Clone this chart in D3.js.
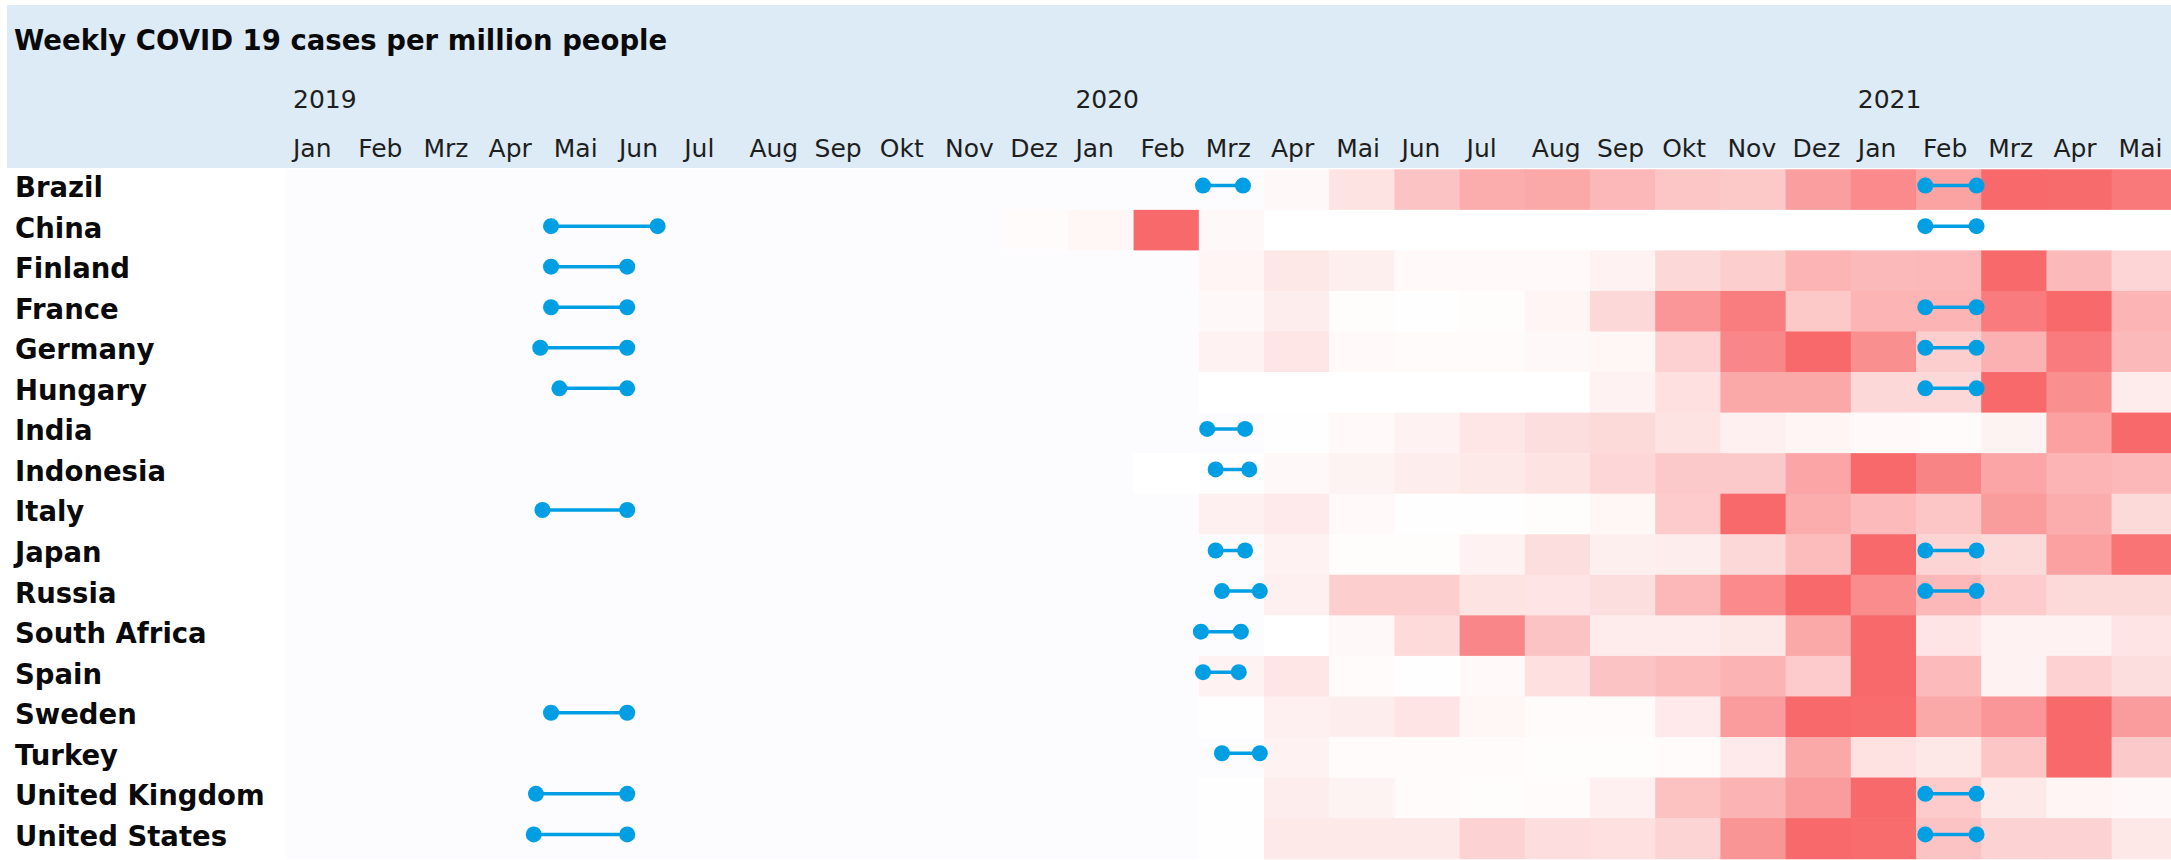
<!DOCTYPE html>
<html>
<head>
<meta charset="utf-8">
<title>Weekly COVID 19 cases per million people</title>
<script src="https://cdn.jsdelivr.net/npm/d3@7"></script>
<style>
  html, body { margin: 0; padding: 0; background: #ffffff; }
  svg { display: block; }
</style>
</head>
<body>
<div id="chart"></div>
<script>
// ---- Axis labels -------------------------------------------------------
const monthLabels = [
  "Jan", "Feb", "Mrz", "Apr", "Mai", "Jun", "Jul", "Aug", "Sep", "Okt", "Nov", "Dez",
  "Jan", "Feb", "Mrz", "Apr", "Mai", "Jun", "Jul", "Aug", "Sep", "Okt", "Nov", "Dez",
  "Jan", "Feb", "Mrz", "Apr", "Mai"
];
const yearLabels = ["2019", "2020", "2021"];
const firstYear = 2019;

const countries = [
  "Brazil", "China", "Finland", "France", "Germany", "Hungary", "India", "Indonesia",
  "Italy", "Japan", "Russia", "South Africa", "Spain", "Sweden", "Turkey",
  "United Kingdom", "United States"
];

// ---- Weekly cases, as % of each country's own peak month ----------------
// Months Dez 2019 .. Mai 2021; null = no reported value.
const dataStartMonth = 11; // Dez 2019
const brazil       = [null, null, null, null,   5,  19,  40,  55,  58,  48,  38,  37,  65,  78,  62, 100,  99,  90];
const china        = [   3,    6,  100,    5,   0,   0,   0,   0,   0,   0,   0,   0,   0,   0,   0,   0,   0,   0];
const finland      = [null, null, null,    7,  16,  11,   4,   4,   4,   9,  26,  33,  50,  47,  48, 100,  47,  28];
const france       = [null, null, null,    5,  12,   2,   1,   2,   7,  26,  70,  87,  37,  50,  50,  88, 100,  50];
const germany      = [null, null, null,    9,  17,   4,   3,   3,   5,   6,  31,  80, 100,  75,  33,  52,  88,  47];
const hungary      = [null, null, null,    0,   0,   0,   0,   0,   0,   9,  21,  58,  58,  26,  26, 100,  75,  13];
const india        = [null, null, null, null,   1,   4,   9,  17,  22,  25,  19,  10,   7,   4,   3,   8,  63, 100];
const indonesia    = [null, null,    0,    1,   5,   8,  12,  15,  19,  27,  36,  36,  60, 100,  82,  60,  50,  48];
const italy        = [null, null, null,   10,  14,   4,   1,   1,   2,   6,  35, 100,  55,  46,  38,  67,  55,  25];
const japan        = [null, null, null, null,   9,   2,   2,   9,  22,  11,  12,  26,  45, 100,  29,  25,  63,  93];
const russia       = [null, null, null, null,  10,  33,  33,  19,  18,  22,  48,  78, 100,  77,  48,  35,  25,  25];
const southAfrica  = [null, null, null, null,   0,   5,  24,  80,  40,  13,  13,  16,  58, 100,  18,   9,   9,  18];
const spain        = [null, null, null,    9,  17,   3,   1,   4,  21,  40,  45,  51,  35, 100,  46,   9,  31,  22];
const sweden       = [null, null, null,    1,  10,  12,  18,   6,   3,   3,  14,  66, 100,  98,  58,  70, 100,  66];
const turkey       = [null, null, null, null,   9,   3,   3,   3,   2,   2,   3,  14,  58,  20,  16,  38, 100,  36];
const unitedKingdom= [null, null, null,    1,  12,   8,   3,   2,   3,  10,  41,  51,  66, 100,  35,  15,   7,   5];
const unitedStates = [null, null, null,    1,  15,  15,  15,  30,  23,  21,  29,  71, 100,  98,  40,  30,  30,  16];

const rowValues = [
  brazil, china, finland, france, germany, hungary, india, indonesia, italy,
  japan, russia, southAfrica, spain, sweden, turkey, unitedKingdom, unitedStates
];

// ---- Highlighted periods (start / end dates) -----------------------------
const spans = [
  ["China",          "2019-05-03", "2019-06-22"],
  ["Finland",        "2019-05-03", "2019-06-08"],
  ["France",         "2019-05-03", "2019-06-08"],
  ["Germany",        "2019-04-28", "2019-06-08"],
  ["Hungary",        "2019-05-07", "2019-06-08"],
  ["Italy",          "2019-04-29", "2019-06-08"],
  ["Sweden",         "2019-05-03", "2019-06-08"],
  ["United Kingdom", "2019-04-26", "2019-06-08"],
  ["United States",  "2019-04-25", "2019-06-08"],
  ["Brazil",         "2020-03-03", "2020-03-22"],
  ["India",          "2020-03-05", "2020-03-23"],
  ["Indonesia",      "2020-03-09", "2020-03-25"],
  ["Japan",          "2020-03-09", "2020-03-23"],
  ["Russia",         "2020-03-12", "2020-03-30"],
  ["South Africa",   "2020-03-02", "2020-03-21"],
  ["Spain",          "2020-03-03", "2020-03-20"],
  ["Turkey",         "2020-03-12", "2020-03-30"],
  ["Brazil",         "2021-02-05", "2021-02-27"],
  ["China",          "2021-02-05", "2021-02-27"],
  ["France",         "2021-02-05", "2021-02-27"],
  ["Germany",        "2021-02-05", "2021-02-27"],
  ["Hungary",        "2021-02-05", "2021-02-27"],
  ["Japan",          "2021-02-05", "2021-02-27"],
  ["Russia",         "2021-02-05", "2021-02-27"],
  ["United Kingdom", "2021-02-05", "2021-02-27"],
  ["United States",  "2021-02-05", "2021-02-27"]
];

// ---- Layout ------------------------------------------------------------
const W = 2171, H = 860;
const gridLeft = 286, colW = 65.2;
const gridTop = 169.3, rowH = 40.55;
const noDataFill = "#FCFCFF";
const lowFill = "#FFFFFF", highFill = "#F8696B";
const spanColor = "#009FE3";
const boldFont = "'DejaVu Sans', Verdana, sans-serif";

const svg = d3.select("#chart").append("svg")
  .attr("width", W).attr("height", H)
  .attr("viewBox", `0 0 ${W} ${H}`);

svg.append("rect").attr("width", W).attr("height", H).attr("fill", "#ffffff");

const nMonths = monthLabels.length;
const x = d3.scaleBand()
  .domain(d3.range(nMonths))
  .range([gridLeft, gridLeft + nMonths * colW]);
const y = d3.scaleBand()
  .domain(countries)
  .range([gridTop, gridTop + countries.length * rowH]);
// continuous month position (0 = 1 Jan 2019) for dated marks
const xMonth = d3.scaleLinear()
  .domain([0, nMonths])
  .range([gridLeft, gridLeft + nMonths * colW]);

const parseDate = d3.timeParse("%Y-%m-%d");
function monthPosition(str) {
  const d = parseDate(str);
  const start = d3.timeMonth.floor(d);
  const days = d3.timeDay.count(start, d3.timeMonth.offset(start, 1));
  return (d.getFullYear() - firstYear) * 12 + d.getMonth() + (d.getDate() - 1) / days;
}

// ---- Header band -------------------------------------------------------
svg.append("rect")
  .attr("x", 7).attr("y", 5)
  .attr("width", W - 7).attr("height", 163)
  .attr("fill", "#DDEBF7");

svg.append("text")
  .attr("x", 14).attr("y", 50)
  .attr("font-family", boldFont)
  .attr("font-weight", "bold")
  .attr("font-size", 27.5)
  .attr("fill", "#0a0a0a")
  .text("Weekly COVID 19 cases per million people");

svg.append("g").selectAll("text")
  .data(yearLabels)
  .join("text")
  .attr("x", (d, i) => x(i * 12) + 7)
  .attr("y", 108)
  .attr("font-family", boldFont)
  .attr("font-size", 25)
  .attr("fill", "#1e1e1e")
  .text(d => d);

svg.append("g").selectAll("text")
  .data(monthLabels)
  .join("text")
  .attr("x", (d, i) => x(i) + 7)
  .attr("y", 157)
  .attr("font-family", boldFont)
  .attr("font-size", 25)
  .attr("fill", "#1e1e1e")
  .text(d => d);

// ---- Heatmap cells (each row coloured against its own peak) ------------
const cells = [];
countries.forEach((c, r) => {
  const vals = rowValues[r];
  const rowMax = d3.max(vals);
  const color = d3.scaleLinear().domain([0, rowMax]).range([lowFill, highFill])
    .interpolate(d3.interpolateRgb);
  for (let m = 0; m < nMonths; m++) {
    const v = m >= dataStartMonth ? vals[m - dataStartMonth] : null;
    cells.push({ country: c, month: m, value: v, fill: v == null ? noDataFill : color(v) });
  }
});

svg.append("g").selectAll("rect")
  .data(cells)
  .join("rect")
  .attr("x", d => x(d.month))
  .attr("y", d => y(d.country))
  .attr("width", x.bandwidth() + 0.6)
  .attr("height", y.bandwidth() + 0.6)
  .attr("fill", d => d.fill);

// ---- Row labels ----------------------------------------------------------
svg.append("g").selectAll("text")
  .data(countries)
  .join("text")
  .attr("x", 15)
  .attr("y", d => y(d) + y.bandwidth() / 2 + 7.5)
  .attr("font-family", boldFont)
  .attr("font-weight", "bold")
  .attr("font-size", 27.5)
  .attr("fill", "#0a0a0a")
  .text(d => d);

// ---- Period dumbbells ------------------------------------------------------
const spanG = svg.append("g").selectAll("g")
  .data(spans)
  .join("g")
  .attr("transform", d => `translate(0,${y(d[0]) + y.bandwidth() / 2 - 4})`);

spanG.append("line")
  .attr("x1", d => xMonth(monthPosition(d[1])))
  .attr("x2", d => xMonth(monthPosition(d[2])))
  .attr("stroke", spanColor)
  .attr("stroke-width", 3.5);

spanG.selectAll("circle")
  .data(d => [d[1], d[2]])
  .join("circle")
  .attr("cx", d => xMonth(monthPosition(d)))
  .attr("cy", 0)
  .attr("r", 8)
  .attr("fill", spanColor);
</script>
</body>
</html>
